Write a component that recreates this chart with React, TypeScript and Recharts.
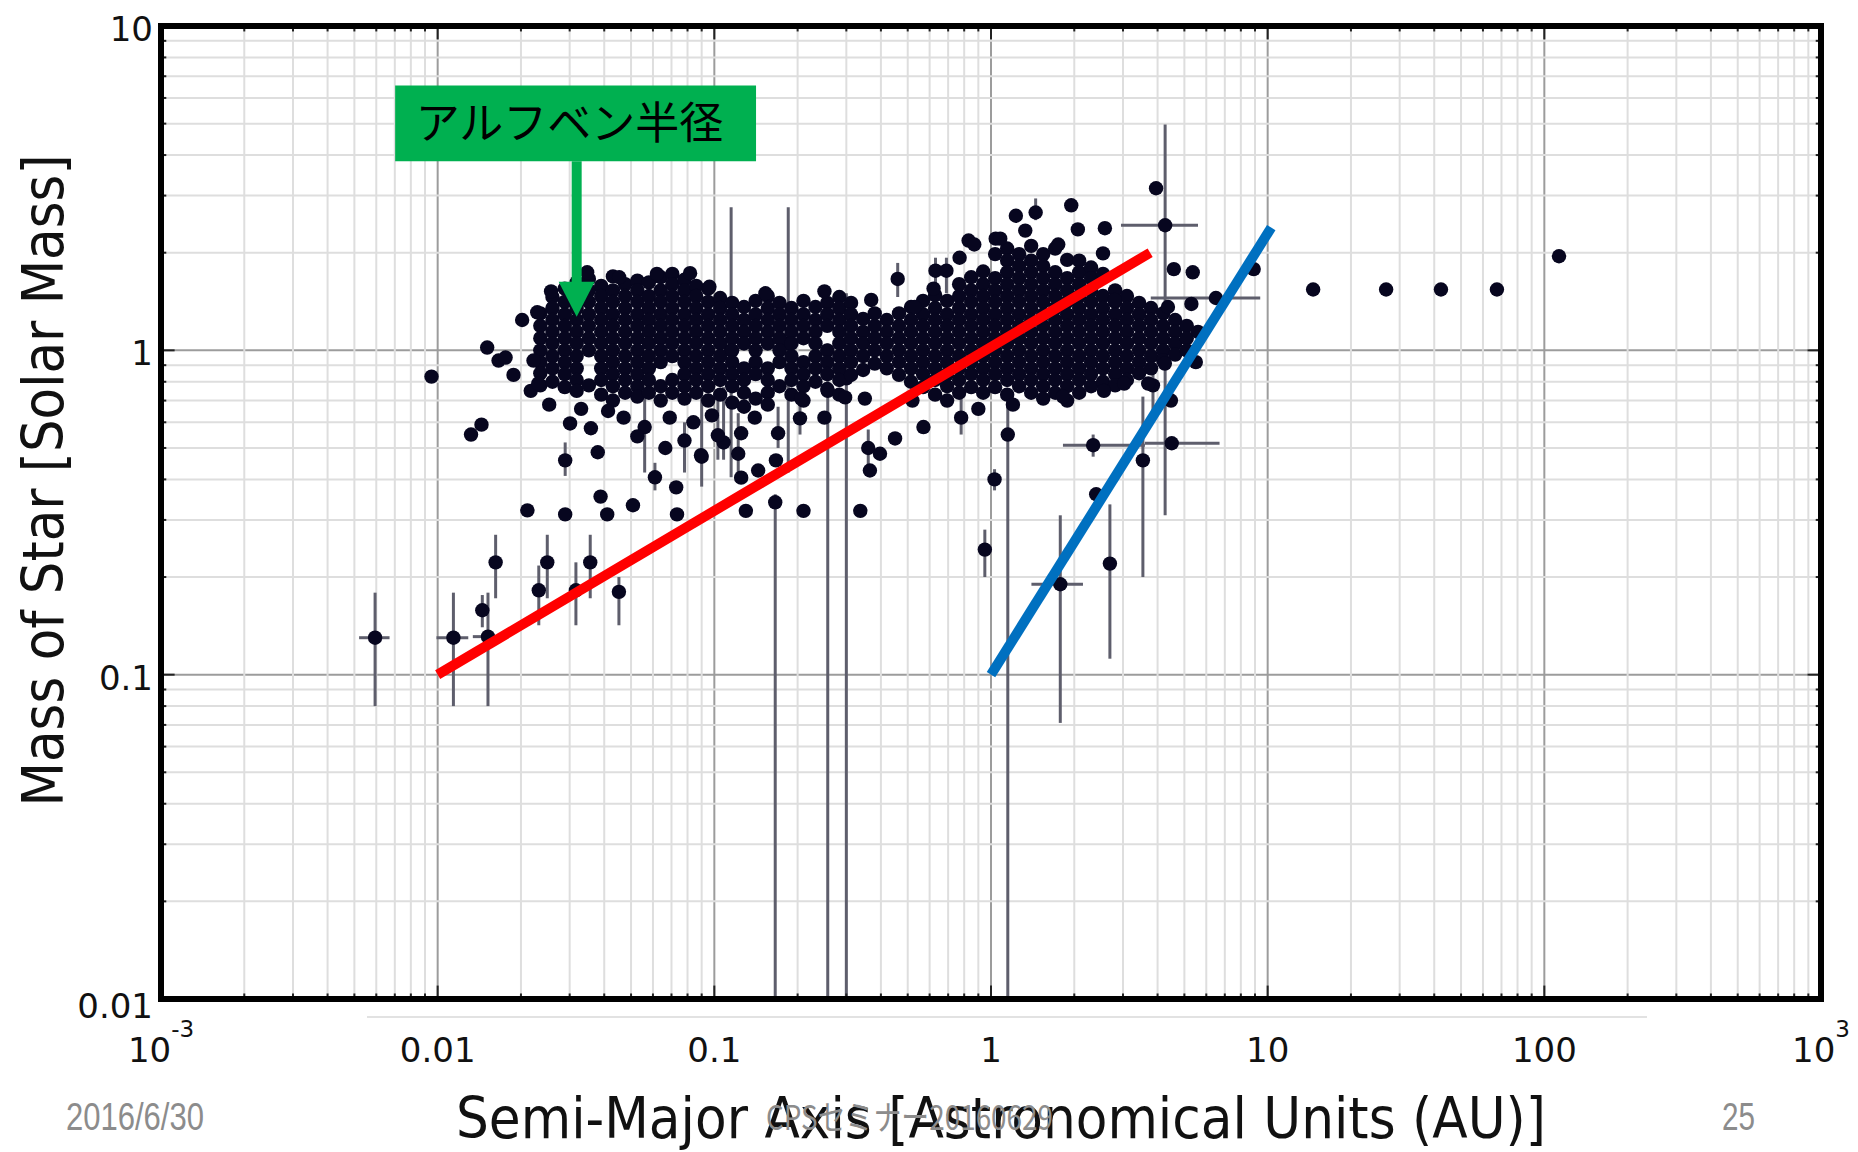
import {
  ScatterChart,
  Scatter,
  XAxis,
  YAxis,
  CartesianGrid,
  ReferenceLine,
  ReferenceArea,
  ReferenceDot,
  ErrorBar,
} from "recharts";

// axis ticks
const xTicks = [0.001, 0.01, 0.1, 1, 10, 100, 1000];
const xTickText: [string, string][] = [
  ["10", "-3"],
  ["0.01", ""],
  ["0.1", ""],
  ["1", ""],
  ["10", ""],
  ["100", ""],
  ["10", "3"],
];
const yTicks = [0.01, 0.1, 1, 10];
const yTickText = ["0.01", "0.1", "1", "10"];

const xMinor = [
  0.002, 0.003, 0.004, 0.005, 0.006, 0.007, 0.008, 0.009,
  0.02, 0.03, 0.04, 0.05, 0.06, 0.07, 0.08, 0.09,
  0.2, 0.3, 0.4, 0.5, 0.6, 0.7, 0.8, 0.9,
  2, 3, 4, 5, 6, 7, 8, 9,
  20, 30, 40, 50, 60, 70, 80, 90,
  200, 300, 400, 500, 600, 700, 800, 900,
];
const yMinor = [
  0.02, 0.03, 0.04, 0.05, 0.06, 0.07, 0.08, 0.09,
  0.2, 0.3, 0.4, 0.5, 0.6, 0.7, 0.8, 0.9,
  2, 3, 4, 5, 6, 7, 8, 9,
];

// dense band of planets: [semi-major axis, star masses in that column]
const bandColumns: [number, number[]][] = [
  [0.0235, [1.3, 1.19, 1.09, 1.0, 0.92, 0.85, 0.78]],
  [0.026, [1.46, 1.35, 1.24, 1.14, 1.05, 0.96, 0.88, 0.8]],
  [0.0288, [1.55, 1.41, 1.29, 1.19, 1.09, 1.0, 0.92, 0.845, 0.77]],
  [0.0318, [1.62, 1.47, 1.35, 1.24, 1.14, 1.05, 0.96, 0.88, 0.81, 0.75]],
  [0.0352, [1.66, 1.53, 1.41, 1.29, 1.19, 1.09, 1.0, 0.78]],
  [0.039, [1.58, 1.47, 1.35, 1.24, 1.14, 1.05, 0.96, 0.88, 0.81, 0.73]],
  [0.043, [1.69, 1.53, 1.41, 1.29, 1.19, 1.09, 1.0, 0.92, 0.845, 0.775, 0.7]],
  [0.0476, [1.6, 1.47, 1.35, 1.24, 1.14, 1.05, 0.96, 0.88, 0.81, 0.74]],
  [0.0527, [1.64, 1.53, 1.41, 1.29, 1.19, 1.09, 1.0, 0.92, 0.845, 0.775, 0.72]],
  [0.058, [1.62, 1.47, 1.35, 1.24, 1.14, 1.05, 0.96, 0.88, 0.81, 0.74]],
  [0.064, [1.68, 1.53, 1.41, 1.29, 1.19, 1.09, 1.0, 0.92, 0.775, 0.7]],
  [0.0705, [1.72, 1.6, 1.47, 1.35, 1.24, 1.14, 1.05, 0.96, 0.81, 0.74]],
  [0.078, [1.65, 1.53, 1.41, 1.29, 1.19, 1.09, 1.0, 0.92, 0.845, 0.775, 0.71]],
  [0.086, [1.58, 1.47, 1.35, 1.24, 1.14, 1.05, 0.96, 0.88, 0.81, 0.74]],
  [0.095, [1.55, 1.41, 1.29, 1.19, 1.09, 1.0, 0.92, 0.845, 0.775, 0.7]],
  [0.105, [1.45, 1.35, 1.24, 1.14, 1.05, 0.96, 0.88, 0.81, 0.73]],
  [0.116, [1.4, 1.29, 1.19, 1.09, 1.0, 0.92, 0.845, 0.775, 0.69]],
  [0.128, [1.36, 1.24, 1.14, 1.05, 0.88, 0.81, 0.74, 0.67]],
  [0.141, [1.42, 1.29, 1.19, 1.09, 1.0, 0.92, 0.845, 0.71]],
  [0.156, [1.47, 1.35, 1.24, 1.14, 1.05, 0.88, 0.81, 0.74, 0.68]],
  [0.172, [1.4, 1.29, 1.19, 1.09, 1.0, 0.92, 0.775]],
  [0.19, [1.35, 1.24, 1.14, 1.05, 0.96, 0.88, 0.81, 0.73]],
  [0.21, [1.42, 1.29, 1.19, 1.09, 0.92, 0.845, 0.775, 0.7]],
  [0.232, [1.36, 1.24, 1.14, 1.05, 0.96, 0.88, 0.8]],
  [0.256, [1.4, 1.29, 1.19, 1.0, 0.92, 0.845, 0.76]],
  [0.283, [1.46, 1.35, 1.24, 1.14, 1.05, 0.96, 0.88, 0.81, 0.73]],
  [0.312, [1.4, 1.29, 1.19, 1.09, 1.0, 0.92, 0.84]],
  [0.345, [1.25, 1.14, 1.05, 0.96, 0.87]],
  [0.38, [1.3, 1.19, 1.09, 1.0, 0.91]],
  [0.42, [1.24, 1.14, 1.05, 0.96, 0.88]],
  [0.465, [1.3, 1.19, 1.09, 1.0, 0.92, 0.84]],
  [0.514, [1.36, 1.24, 1.14, 1.05, 0.96, 0.88, 0.8]],
  [0.568, [1.42, 1.29, 1.19, 1.09, 1.0, 0.92, 0.845, 0.77]],
  [0.628, [1.48, 1.35, 1.24, 1.14, 1.05, 0.96, 0.88, 0.81, 0.73]],
  [0.694, [1.42, 1.29, 1.19, 1.09, 1.0, 0.92, 0.845, 0.775, 0.7]],
  [0.767, [1.6, 1.47, 1.35, 1.24, 1.14, 1.05, 0.96, 0.88, 0.81, 0.74]],
  [0.848, [1.68, 1.53, 1.41, 1.29, 1.19, 1.09, 1.0, 0.92, 0.845, 0.77]],
  [0.937, [1.75, 1.6, 1.47, 1.35, 1.24, 1.14, 1.05, 0.96, 0.88, 0.81, 0.74]],
  [1.035, [1.98, 1.67, 1.53, 1.41, 1.29, 1.19, 1.09, 1.0, 0.92, 0.845, 0.77]],
  [1.144, [2.06, 1.89, 1.74, 1.6, 1.47, 1.35, 1.24, 1.14, 1.05, 0.96, 0.88, 0.81, 0.73]],
  [1.264, [1.98, 1.82, 1.67, 1.53, 1.41, 1.29, 1.19, 1.09, 1.0, 0.92, 0.845, 0.775]],
  [1.397, [2.1, 1.89, 1.74, 1.6, 1.47, 1.35, 1.24, 1.14, 1.05, 0.96, 0.88, 0.81, 0.74]],
  [1.544, [1.98, 1.82, 1.67, 1.53, 1.41, 1.29, 1.19, 1.09, 1.0, 0.92, 0.845, 0.775, 0.71]],
  [1.706, [2.06, 1.74, 1.6, 1.47, 1.35, 1.24, 1.14, 1.05, 0.96, 0.88, 0.81, 0.74]],
  [1.885, [1.9, 1.67, 1.53, 1.41, 1.29, 1.19, 1.09, 1.0, 0.92, 0.845, 0.775, 0.7]],
  [2.083, [1.89, 1.74, 1.6, 1.47, 1.35, 1.24, 1.14, 1.05, 0.96, 0.88, 0.81, 0.74]],
  [2.3, [1.8, 1.67, 1.53, 1.41, 1.29, 1.19, 1.09, 1.0, 0.92, 0.845, 0.775]],
  [2.54, [1.72, 1.47, 1.35, 1.24, 1.14, 1.05, 0.96, 0.88, 0.8]],
  [2.81, [1.53, 1.41, 1.29, 1.19, 1.09, 1.0, 0.92, 0.845, 0.78]],
  [3.1, [1.47, 1.35, 1.24, 1.14, 1.05, 0.96, 0.88, 0.81]],
  [3.43, [1.4, 1.29, 1.19, 1.09, 1.0, 0.92, 0.85]],
  [3.79, [1.35, 1.24, 1.14, 1.05, 0.96, 0.88]],
  [4.19, [1.3, 1.19, 1.09, 1.0, 0.93]],
  [4.63, [1.24, 1.14, 1.05, 0.97]],
  [5.1, [1.19, 1.09, 1.0]],
  [5.6, [1.14]],
];

// isolated planets without visible error bars: [a, M]
const scatteredPoints: [number, number][] = [
  [0.0095, 0.83], [0.0132, 0.55], [0.0144, 0.59], [0.0151, 1.02], [0.0166, 0.93], [0.0176, 0.95],
  [0.0188, 0.84], [0.0202, 1.24], [0.0229, 1.31], [0.0217, 0.75], [0.0231, 0.79], [0.0222, 0.93],
  [0.0257, 1.52], [0.0347, 1.74], [0.0453, 1.68], [0.0817, 1.73], [0.096, 1.57], [0.062, 1.72],
  [0.0301, 0.595], [0.0358, 0.575], [0.0379, 0.485], [0.0413, 0.65], [0.0527, 0.543], [0.0665, 0.5],
  [0.0211, 0.321], [0.0289, 0.312], [0.0388, 0.354], [0.041, 0.312], [0.0508, 0.333], [0.0728, 0.378],
  [0.0733, 0.312], [0.0253, 0.68], [0.033, 0.66], [0.047, 0.62], [0.069, 0.62], [0.084, 0.6], [0.098, 0.63],
  [0.125, 0.405], [0.144, 0.426], [0.0895, 0.475], [0.125, 0.555], [0.167, 0.458], [0.206, 0.71],
  [0.35, 0.71], [0.45, 0.535], [0.397, 0.48], [0.365, 0.426], [0.57, 0.58], [0.297, 0.716],
  [0.13, 0.32], [0.21, 0.32], [0.337, 0.32], [0.52, 0.7], [0.25, 0.62], [0.14, 0.62],
  [0.153, 1.5], [0.369, 1.43], [0.53, 1.36], [0.77, 1.93], [0.83, 2.18], [0.87, 2.12], [0.25, 1.52], [0.62, 1.55],
  [1.04, 2.21], [1.23, 2.6], [1.08, 2.21], [1.33, 2.34], [1.95, 2.8], [2.06, 2.36], [2.58, 2.38], [1.75, 2.12],
  [2.54, 1.99], [2.8, 1.43], [3.95, 3.16], [4.58, 1.78], [5.36, 1.74], [8.9, 1.78], [5.3, 1.39], [4.36, 1.36],
  [4.25, 0.91], [5.5, 0.92], [3.03, 0.79], [2.56, 0.75], [1.82, 0.72], [4.47, 0.7], [2.4, 0.36], [3.7, 0.79],
  [1.2, 0.68], [0.9, 0.66],
  [14.6, 1.54], [26.8, 1.54], [42.3, 1.54], [67.4, 1.54], [113, 1.95],
];

// planets with error bars: [a, M, aLow, aHigh, mLow, mHigh]
const errorPoints: number[][] = [
  [0.00594, 0.13, 0.0052, 0.0067, 0.08, 0.179],
  [0.0114, 0.13, 0.0099, 0.0129, 0.08, 0.179],
  [0.0152, 0.131, 0.0134, 0.0161, 0.08, 0.179],
  [0.0145, 0.158, 0.0145, 0.0145, 0.14, 0.176],
  [0.0162, 0.222, 0.0162, 0.0162, 0.172, 0.27],
  [0.0232, 0.182, 0.0232, 0.0232, 0.142, 0.217],
  [0.0249, 0.222, 0.0249, 0.0249, 0.172, 0.27],
  [0.0316, 0.182, 0.0316, 0.0316, 0.142, 0.222],
  [0.0356, 0.222, 0.0356, 0.0356, 0.172, 0.27],
  [0.0452, 0.18, 0.0452, 0.0452, 0.142, 0.2],
  [0.0289, 0.458, 0.0289, 0.0289, 0.41, 0.52],
  [0.061, 0.406, 0.061, 0.061, 0.37, 0.45],
  [0.056, 0.58, 0.056, 0.056, 0.42, 0.74],
  [0.078, 0.527, 0.078, 0.078, 0.42, 0.6],
  [0.09, 0.47, 0.09, 0.09, 0.38, 0.72],
  [0.108, 0.52, 0.108, 0.108, 0.46, 0.77],
  [0.103, 0.547, 0.103, 0.103, 0.46, 0.7],
  [0.122, 0.48, 0.122, 0.122, 0.41, 0.64],
  [0.17, 0.555, 0.17, 0.17, 0.5, 0.67],
  [0.204, 0.617, 0.204, 0.204, 0.55, 0.71],
  [0.36, 0.5, 0.36, 0.36, 0.44, 0.57],
  [0.115, 1.0, 0.115, 0.115, 0.406, 2.76],
  [0.185, 1.05, 0.185, 0.185, 0.42, 2.76],
  [0.166, 0.34, 0.166, 0.166, 0.0102, 0.36],
  [0.257, 0.75, 0.257, 0.257, 0.0102, 1.05],
  [0.3, 0.82, 0.3, 0.3, 0.0102, 1.5],
  [1.15, 0.55, 1.15, 1.15, 0.0102, 0.72],
  [0.46, 1.66, 0.46, 0.46, 1.46, 1.86],
  [0.63, 1.76, 0.63, 0.63, 1.5, 1.93],
  [0.69, 1.76, 0.69, 0.69, 1.5, 1.93],
  [0.78, 0.62, 0.78, 0.78, 0.55, 0.77],
  [1.45, 2.66, 1.45, 1.45, 2.52, 2.94],
  [4.26, 2.43, 2.95, 5.6, 0.31, 4.97],
  [3.54, 0.458, 3.54, 3.54, 0.2, 0.72],
  [2.69, 0.22, 2.69, 2.69, 0.112, 0.335],
  [1.78, 0.19, 1.4, 2.15, 0.071, 0.31],
  [0.95, 0.243, 0.95, 0.95, 0.2, 0.28],
  [1.03, 0.4, 1.03, 1.03, 0.37, 0.43],
  [2.34, 0.51, 1.82, 3.6, 0.47, 0.55],
  [4.5, 0.517, 3.6, 6.7, 0.517, 0.517],
  [6.5, 1.45, 3.78, 9.4, 1.45, 1.45],
  [3.85, 0.78, 3.85, 3.85, 0.65, 0.91],
];

// hand drawn trend lines: [a, M] end points
const redFit = [[0.01, 0.1], [3.76, 2.0]];
const blueFit = [[1, 0.1], [10.3, 2.39]];

const bandPoints = bandColumns.flatMap(([a, ms]) => ms.map((m) => ({ a, m })));
const loosePoints = scatteredPoints.map(([a, m]) => ({ a, m }));
const errorRows = errorPoints.map(([a, m, aLo, aHi, mLo, mHi]) => ({
  a,
  m,
  ex: [a - aLo, aHi - a],
  ey: [m - mLo, mHi - m],
}));

const DOT = "#07061f";
const GREEN = "#00b050";
const FONT = "DejaVu Sans";

const Dot = (p: any) =>
  p.cx == null ? null : <circle cx={p.cx} cy={p.cy} r={7.2} fill={DOT} />;

function XTick({ x, y, payload }: any) {
  const i = xTicks.indexOf(payload.value);
  const [main, sup] = xTickText[i] ?? [String(payload.value), ""];
  return (
    <text x={x} y={y + 63} textAnchor="middle" fontFamily={FONT} fontSize={34} fill="#111">
      {main}
      {sup && (
        <tspan dy={-25} fontSize={23}>
          {sup}
        </tspan>
      )}
    </text>
  );
}

function YTick({ x, y, payload }: any) {
  const i = yTicks.indexOf(payload.value);
  return (
    <text
      x={x - 8}
      y={y + (payload.value === 0.01 ? 7 : 3)}
      textAnchor="end"
      dominantBaseline="central"
      fontFamily={FONT}
      fontSize={34}
      fill="#111"
    >
      {yTickText[i]}
    </text>
  );
}

const XTitle = ({ viewBox }: any) => (
  <text
    x={viewBox.x + viewBox.width / 2 + 10}
    y={viewBox.y + 139}
    textAnchor="middle"
    fontFamily={FONT}
    fontSize={57}
    textLength={1090}
    lengthAdjust="spacingAndGlyphs"
    fill="#111"
  >
    Semi-Major Axis [Astronomical Units (AU)]
  </text>
);

const YTitle = ({ viewBox }: any) => {
  const cx = viewBox.x + 63;
  const cy = viewBox.y + viewBox.height / 2 - 32;
  return (
    <text
      x={cx}
      y={cy}
      transform={`rotate(-90 ${cx} ${cy})`}
      textAnchor="middle"
      fontFamily={FONT}
      fontSize={57}
      textLength={652}
      lengthAdjust="spacingAndGlyphs"
      fill="#111"
    >
      Mass of Star [Solar Mass]
    </text>
  );
};

const BoxText = ({ viewBox }: any) => (
  <text
    x={viewBox.x + viewBox.width / 2 - 6}
    y={viewBox.y + viewBox.height / 2 + 16}
    textAnchor="middle"
    fontFamily="Noto Sans CJK JP"
    fontSize={44}
    fill="#000"
  >
    アルフベン半径
  </text>
);

const ArrowHead = ({ cx, cy }: any) => (
  <polygon points={`${cx},${cy} ${cx - 18},${cy - 35} ${cx + 18},${cy - 35}`} fill={GREEN} />
);

export default function App() {
  const tick = { stroke: "#222", strokeWidth: 2 };
  return (
    <div style={{ position: "absolute", left: 0, top: 0, width: 1858, height: 1152, background: "#fff" }}>
      <ScatterChart width={1858} height={1152} margin={{ top: 26, right: 37, bottom: 0, left: 0 }}>
        <CartesianGrid stroke="#9c9c9c" strokeWidth={2} />
        {xMinor.map((v) => (
          <ReferenceLine key={`gx${v}`} x={v} stroke="#dedede" strokeWidth={2} zIndex={-90} />
        ))}
        {yMinor.map((v) => (
          <ReferenceLine key={`gy${v}`} y={v} stroke="#dedede" strokeWidth={2} zIndex={-90} />
        ))}
        <XAxis
          dataKey="a"
          type="number"
          scale="log"
          domain={[0.001, 1000]}
          ticks={xTicks}
          interval={0}
          allowDataOverflow
          height={153}
          axisLine={false}
          tickLine={false}
          tickSize={0}
          tickMargin={0}
          tick={<XTick />}
          label={XTitle}
        />
        <YAxis
          dataKey="m"
          type="number"
          scale="log"
          domain={[0.01, 10]}
          ticks={yTicks}
          interval={0}
          allowDataOverflow
          width={161}
          axisLine={false}
          tickLine={false}
          tickSize={0}
          tickMargin={0}
          tick={<YTick />}
          label={YTitle}
        />
        <Scatter data={errorRows} shape={Dot} isAnimationActive={false}>
          <ErrorBar dataKey="ey" direction="y" width={0} stroke="#5e5e6c" strokeWidth={3} isAnimationActive={false} />
          <ErrorBar dataKey="ex" direction="x" width={0} stroke="#5e5e6c" strokeWidth={3} isAnimationActive={false} />
        </Scatter>
        <Scatter data={bandPoints} shape={Dot} isAnimationActive={false} />
        <Scatter data={loosePoints} shape={Dot} isAnimationActive={false} />

        {/* tick marks along the frame */}
        {xMinor.map((v) => (
          <ReferenceLine key={`tb${v}`} segment={[{ x: v, y: 0.01 }, { x: v, y: 0.0104 }]} {...tick} zIndex={900} />
        ))}
        {xMinor.map((v) => (
          <ReferenceLine key={`tt${v}`} segment={[{ x: v, y: 10 }, { x: v, y: 9.62 }]} {...tick} zIndex={900} />
        ))}
        {xTicks.slice(1, -1).map((v) => (
          <ReferenceLine key={`Tb${v}`} segment={[{ x: v, y: 0.01 }, { x: v, y: 0.011 }]} {...tick} zIndex={900} />
        ))}
        {xTicks.slice(1, -1).map((v) => (
          <ReferenceLine key={`Tt${v}`} segment={[{ x: v, y: 10 }, { x: v, y: 9.1 }]} {...tick} zIndex={900} />
        ))}
        {yMinor.map((v) => (
          <ReferenceLine key={`tl${v}`} segment={[{ x: 0.001, y: v }, { x: 0.001045, y: v }]} {...tick} zIndex={900} />
        ))}
        {yMinor.map((v) => (
          <ReferenceLine key={`tr${v}`} segment={[{ x: 1000, y: v }, { x: 957, y: v }]} {...tick} zIndex={900} />
        ))}
        {yTicks.slice(1, -1).map((v) => (
          <ReferenceLine key={`Tl${v}`} segment={[{ x: 0.001, y: v }, { x: 0.00112, y: v }]} {...tick} zIndex={900} />
        ))}
        {yTicks.slice(1, -1).map((v) => (
          <ReferenceLine key={`Tr${v}`} segment={[{ x: 1000, y: v }, { x: 893, y: v }]} {...tick} zIndex={900} />
        ))}

        <ReferenceLine
          segment={[{ x: redFit[0][0], y: redFit[0][1] }, { x: redFit[1][0], y: redFit[1][1] }]}
          stroke="#ff0000"
          strokeWidth={10}
          zIndex={900}
        />
        <ReferenceLine
          segment={[{ x: blueFit[0][0], y: blueFit[0][1] }, { x: blueFit[1][0], y: blueFit[1][1] }]}
          stroke="#0070c0"
          strokeWidth={10}
          zIndex={900}
        />

        {/* Alfven radius call-out */}
        <ReferenceArea
          x1={0.00702}
          x2={0.1415}
          y1={3.83}
          y2={6.56}
          fill={GREEN}
          fillOpacity={1}
          stroke="none"
          label={BoxText}
          zIndex={950}
        />
        <ReferenceLine
          segment={[{ x: 0.0318, y: 3.83 }, { x: 0.0318, y: 1.6 }]}
          stroke={GREEN}
          strokeWidth={10}
          zIndex={950}
        />
        <ReferenceDot x={0.0318} y={1.27} r={0} shape={ArrowHead} zIndex={950} />

        <ReferenceArea
          x1={0.001}
          x2={1000}
          y1={0.01}
          y2={10}
          fill="none"
          stroke="#000"
          strokeWidth={6}
          zIndex={960}
        />
      </ScatterChart>

      <svg
        width={1858}
        height={1152}
        style={{ position: "absolute", left: 0, top: 0, pointerEvents: "none" }}
      >
        <line x1={367} y1={1017} x2={1647} y2={1017} stroke="#e2e2e2" strokeWidth={2} />
        <text
          x={66}
          y={1130}
          fontFamily="Liberation Sans Narrow, Liberation Sans"
          fontSize={38}
          fill="#8c8c8c"
          textLength={138}
          lengthAdjust="spacingAndGlyphs"
        >
          2016/6/30
        </text>
        <text
          x={766}
          y={1130}
          fontFamily="Liberation Sans Narrow, Noto Sans CJK JP"
          fontSize={34}
          fill="#8c8c8c"
          textLength={287}
          lengthAdjust="spacingAndGlyphs"
        >
          CPSセミナー20160629
        </text>
        <text
          x={1722}
          y={1130}
          fontFamily="Liberation Sans Narrow, Liberation Sans"
          fontSize={38}
          fill="#8c8c8c"
          textLength={33}
          lengthAdjust="spacingAndGlyphs"
        >
          25
        </text>
      </svg>
    </div>
  );
}
